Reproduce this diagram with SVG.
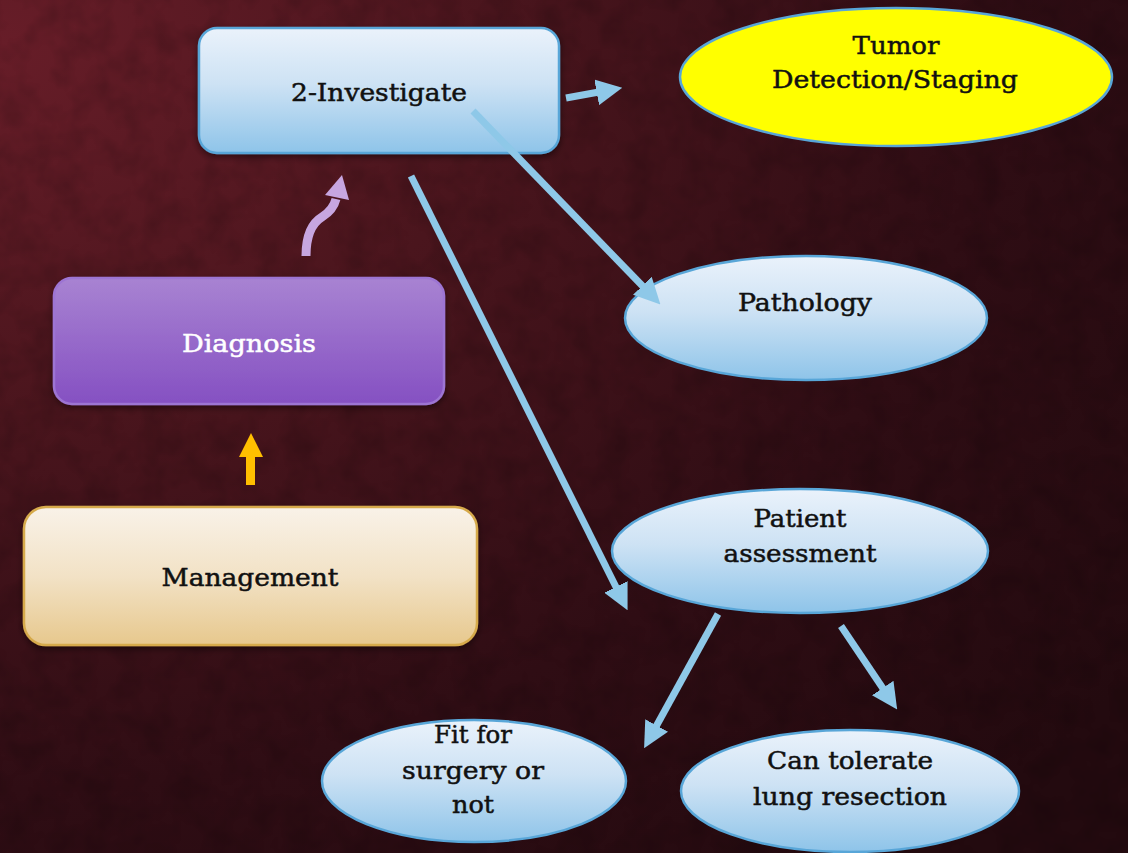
<svg xmlns="http://www.w3.org/2000/svg" width="1128" height="853" viewBox="0 0 1128 853">
  <defs>
    <radialGradient id="bg" cx="0" cy="0.05" r="1.25" gradientUnits="objectBoundingBox">
      <stop offset="0" stop-color="#671d28"/>
      <stop offset="0.35" stop-color="#4a151d"/>
      <stop offset="0.7" stop-color="#2f0d14"/>
      <stop offset="1" stop-color="#230a0f"/>
    </radialGradient>
    <filter id="grain" x="0" y="0" width="100%" height="100%">
      <feTurbulence type="fractalNoise" baseFrequency="0.035" numOctaves="3" seed="4" result="n"/>
      <feColorMatrix in="n" type="matrix" values="0 0 0 0 0  0 0 0 0 0  0 0 0 0 0  0 0 0 0.9 -0.35"/>
    </filter>
    <linearGradient id="blueFill" x1="0" y1="0" x2="0" y2="1">
      <stop offset="0" stop-color="#eaf2fb"/>
      <stop offset="0.45" stop-color="#cde2f4"/>
      <stop offset="1" stop-color="#8ec4e9"/>
    </linearGradient>
    <linearGradient id="purpleFill" x1="0" y1="0" x2="0" y2="1">
      <stop offset="0" stop-color="#a883d2"/>
      <stop offset="1" stop-color="#8550c2"/>
    </linearGradient>
    <linearGradient id="sandFill" x1="0" y1="0" x2="0" y2="1">
      <stop offset="0" stop-color="#f9f2e8"/>
      <stop offset="0.5" stop-color="#f2e2c6"/>
      <stop offset="1" stop-color="#e7c88d"/>
    </linearGradient>
    <filter id="shadow" x="-10%" y="-10%" width="120%" height="130%">
      <feDropShadow dx="0" dy="3" stdDeviation="3" flood-color="#000" flood-opacity="0.45"/>
    </filter>
    <marker id="head" markerUnits="userSpaceOnUse" markerWidth="26" markerHeight="26" viewBox="0 0 22 22" refX="2" refY="11" orient="auto">
      <path d="M0,0 L22,11 L0,22 z" fill="#8ec8e8"/>
    </marker>
    <style>
      .lbl { font-family: "DejaVu Serif", "Liberation Serif", serif; font-size: 25px; fill: #111; stroke: #111; stroke-width: 0.5; text-anchor: middle; }
      .wht { fill: #ffffff; stroke: #ffffff; }
      .blue { fill: url(#blueFill); stroke: #58a6d8; stroke-width: 2.5; }
      .conn { stroke: #8ec8e8; stroke-width: 7; fill: none; marker-end: url(#head); }
    </style>
  </defs>

  <!-- backdrop -->
  <rect width="1128" height="853" fill="url(#bg)"/>
  <rect width="1128" height="853" filter="url(#grain)" opacity="0.35"/>

  <g id="node-investigate">
    <rect x="199" y="28" width="360" height="125" rx="18" class="blue" filter="url(#shadow)"/>
    <text x="379" y="101" class="lbl" textLength="176" lengthAdjust="spacingAndGlyphs">2-Investigate</text>
  </g>

  <g id="node-tumor">
    <ellipse cx="896" cy="77" rx="216" ry="69" fill="#ffff00" stroke="#58a6d8" stroke-width="2.5"/>
    <text x="896" y="54" class="lbl" textLength="87" lengthAdjust="spacingAndGlyphs">Tumor</text>
    <text x="895" y="88" class="lbl" textLength="246" lengthAdjust="spacingAndGlyphs">Detection/Staging</text>
  </g>

  <g id="node-pathology">
    <ellipse cx="806" cy="318" rx="181" ry="62" class="blue"/>
    <text x="805" y="311" class="lbl" textLength="134" lengthAdjust="spacingAndGlyphs">Pathology</text>
  </g>

  <g id="node-patient">
    <ellipse cx="800" cy="551" rx="188" ry="62" class="blue"/>
    <text x="800" y="527" class="lbl" textLength="93" lengthAdjust="spacingAndGlyphs">Patient</text>
    <text x="800" y="562" class="lbl" textLength="153" lengthAdjust="spacingAndGlyphs">assessment</text>
  </g>

  <g id="node-fit">
    <ellipse cx="474" cy="781" rx="152" ry="61" class="blue"/>
    <text x="473" y="743" class="lbl" textLength="78" lengthAdjust="spacingAndGlyphs">Fit for</text>
    <text x="473" y="779" class="lbl" textLength="142" lengthAdjust="spacingAndGlyphs">surgery or</text>
    <text x="473" y="813" class="lbl" textLength="42" lengthAdjust="spacingAndGlyphs">not</text>
  </g>

  <g id="node-tolerate">
    <ellipse cx="850" cy="791" rx="169" ry="61" class="blue"/>
    <text x="850" y="769" class="lbl" textLength="166" lengthAdjust="spacingAndGlyphs">Can tolerate</text>
    <text x="850" y="805" class="lbl" textLength="194" lengthAdjust="spacingAndGlyphs">lung resection</text>
  </g>

  <g id="node-diagnosis">
    <rect x="54" y="278" width="390" height="126" rx="18" fill="url(#purpleFill)" stroke="#9d74d3" stroke-width="2.5" filter="url(#shadow)"/>
    <text x="249" y="352" class="lbl wht" textLength="134" lengthAdjust="spacingAndGlyphs">Diagnosis</text>
  </g>

  <g id="node-management">
    <rect x="24" y="507" width="453" height="138" rx="22" fill="url(#sandFill)" stroke="#d6aa4c" stroke-width="2.5" filter="url(#shadow)"/>
    <text x="250" y="586" class="lbl" textLength="177" lengthAdjust="spacingAndGlyphs">Management</text>
  </g>

  <g id="connectors">
    <!-- investigate to tumor staging -->
    <line x1="566" y1="98" x2="599" y2="92" class="conn"/>
    <!-- investigate to pathology -->
    <line x1="473" y1="111" x2="644" y2="287.5" class="conn"/>
    <!-- investigate to patient assessment -->
    <line x1="411" y1="176" x2="617" y2="589" class="conn"/>
    <!-- patient assessment branches -->
    <line x1="718" y1="614" x2="655.5" y2="727.5" class="conn"/>
    <line x1="841" y1="626" x2="884" y2="690" class="conn"/>
    <!-- management up to diagnosis -->
    <polygon points="246,485 255,485 255,457 263,457 251,433 239,457 246,457" fill="#ffbf00"/>
    <!-- diagnosis up to investigate -->
    <path d="M306,256 C306,236 312,223 322,217 C330,212 334,207 336,199" fill="none" stroke="#c7a6e0" stroke-width="9"/>
    <polygon points="342,175 349,200 325,195" fill="#c7a6e0"/>
  </g>
</svg>
